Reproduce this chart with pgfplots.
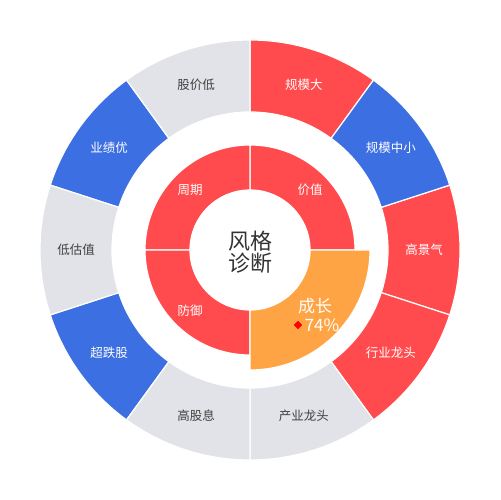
\documentclass[border=0pt]{standalone}
\usepackage{pgfplots}
\pgfplotsset{compat=1.18}
\usepackage{pgfplotstable}
\usepackage{fontspec}
\setmainfont{Noto Sans CJK SC}

\definecolor{segred}{RGB}{255,75,77}
\definecolor{segblue}{RGB}{60,111,225}
\definecolor{seggray}{RGB}{226,227,232}
\definecolor{segorange}{RGB}{255,164,69}
\definecolor{txtdark}{RGB}{64,64,64}
\definecolor{ctrtxt}{RGB}{51,51,51}

% ring sector drawn as a plot mark (x=y=1bp, so radii are in bp)
\pgfdeclareplotmark{sector}{%
  \pgfpathmoveto{\pgfpointpolar{\sA}{\rI bp}}%
  \pgfpathlineto{\pgfpointpolar{\sA}{\rO bp}}%
  \pgfpatharc{\sA}{\sB}{\rO bp}%
  \pgfpathlineto{\pgfpointpolar{\sB}{\rI bp}}%
  \pgfpatharc{\sB}{\sA}{\rI bp}%
  \pgfpathclose
  \pgfusepathqfillstroke}

% sectors: centre x y, start/end angle, inner/outer radius
\pgfplotstableread{
x y a0 a1 r0 r1
0 0 54 90 138 210
0 0 -18 18 138 210
0 0 -54 -18 138 210
0 0 0 90 60 105
0 0 90 180 60 105
0 0 180 270 60 105
}\redsectors

\pgfplotstableread{
x y a0 a1 r0 r1
0 0 18 54 138 210
0 0 -162 -126 138 210
0 0 126 162 138 210
}\bluesectors

\pgfplotstableread{
x y a0 a1 r0 r1
0 0 -90 -54 138 210
0 0 -126 -90 138 210
0 0 162 198 138 210
0 0 90 126 138 210
}\graysectors

\pgfplotstableread{
x y a0 a1 r0 r1
0 0 270 360 60 120
}\orangesectors

\pgfplotstableread{
x y lbl
53.8 165.5 规模大
140.8 102.3 规模中小
174 0 高景气
140.8 -102.3 行业龙头
-140.8 -102.3 超跌股
-140.8 102.3 业绩优
60 60 价值
-60 60 周期
-60 -61 防御
}\whitelabels

\pgfplotstableread{
x y lbl
53.8 -165.5 产业龙头
-53.8 -165.5 高股息
-174 0 低估值
-53.8 165.5 股价低
}\darklabels

\pgfplotsset{
    sector plot/.style={
        only marks, mark=sector,
        mark options={fill=#1, draw=white, line width=1.2bp, line join=miter},
        visualization depends on={\thisrow{a0}\as\sA},
        visualization depends on={\thisrow{a1}\as\sB},
        visualization depends on={\thisrow{r0}\as\rI},
        visualization depends on={\thisrow{r1}\as\rO},
    },
    label plot/.style 2 args={
        only marks, mark=*, mark size=0pt, mark options={draw=none, fill=none},
        point meta=explicit symbolic,
        nodes near coords,
        nodes near coords style={anchor=center, inner sep=0pt, text=#1,
            font=\fontsize{#2}{#2}\selectfont},
    },
}

\begin{document}
\begin{tikzpicture}
\begin{axis}[
    x=1bp, y=1bp,
    xmin=-250, xmax=250,
    ymin=-250, ymax=250,
    scale only axis,
    hide axis,
    clip=false,
    /pgf/number format/assume math mode=true,
]
\path (axis cs:-250,-250) rectangle (axis cs:250,250);

% ring sectors
\addplot[sector plot=segred] table[x=x, y=y] {\redsectors};
\addplot[sector plot=segblue] table[x=x, y=y] {\bluesectors};
\addplot[sector plot=seggray] table[x=x, y=y] {\graysectors};
\addplot[sector plot=segorange] table[x=x, y=y] {\orangesectors};

% segment labels
\addplot[label plot={white}{12.5bp}] table[x=x, y=y, meta=lbl] {\whitelabels};
\addplot[label plot={txtdark}{12.5bp}] table[x=x, y=y, meta=lbl] {\darklabels};
\addplot[label plot={white}{17bp}] coordinates {(65,-56) [成长]};

% highlighted segment value
\addplot[
    only marks, mark=square*, mark size=2.8pt,
    mark options={rotate=45, fill=red, draw=red},
    point meta=explicit,
    nodes near coords={\pgfmathprintnumber{\pgfplotspointmeta}\%},
    nodes near coords style={anchor=west, inner sep=0pt, xshift=6.5bp, text=white,
        font=\fontsize{17bp}{20bp}\selectfont},
] coordinates {(48,-75) [74]};

% centre title
\node[text=ctrtxt, align=center, inner sep=0pt,
    font=\fontsize{22bp}{22bp}\selectfont] at (axis cs:0,-2) {风格\\诊断};
\end{axis}
\end{tikzpicture}
\end{document}
